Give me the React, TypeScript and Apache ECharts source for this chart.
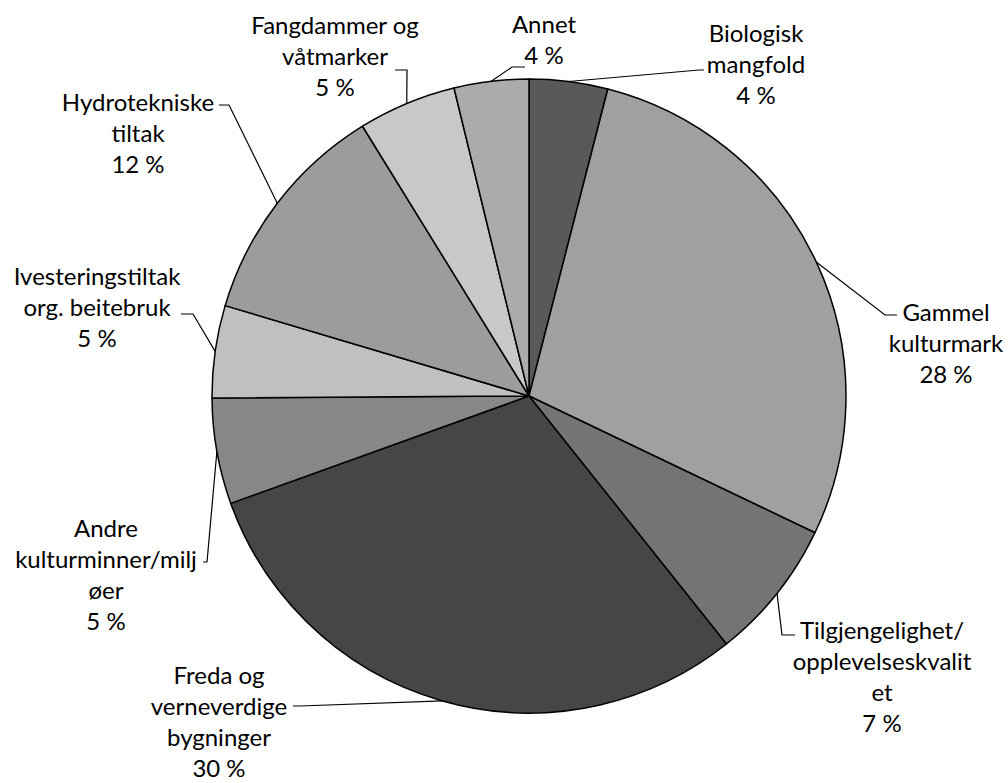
import React, { useEffect, useRef } from "react";
import * as echarts from "echarts";

const categories = [
  "Biologisk\nmangfold",
  "Gammel\nkulturmark",
  "Tilgjengelighet/\nopplevelseskvalit\net",
  "Freda og\nverneverdige\nbygninger",
  "Andre\nkulturminner/milj\nøer",
  "Ivesteringstiltak\norg. beitebruk",
  "Hydrotekniske\ntiltak",
  "Fangdammer og\nvåtmarker",
  "Annet",
];
const values = [4.0, 28.1, 7.2, 30.2, 5.4, 4.7, 11.6, 5.0, 3.8];
const colors = ["#595959", "#a0a0a0", "#747474", "#464646", "#878787", "#c0c0c0", "#9c9c9c", "#c8c8c8", "#ababab"];

// label centres and leader-line elbow/end points (layout, not data)
const labelCenters = [
  [756, 63], [946, 342], [882, 676], [219, 721], [106, 574], [97, 306], [138, 132], [335, 55], [544, 39],
];
const leaderElbows = [
  [[699, 70], [704, 70]],
  [[885, 315], [897, 315]],
  [[782, 635], [795, 635]],
  [[300, 706], [293, 706]],
  [[207, 562], [203, 562]],
  [[193, 314], [181, 314]],
  [[229, 105], [219, 105]],
  [[407, 70], [395, 70]],
  [[512, 67], [525, 67]],
];

export default function App() {
  const ref = useRef<HTMLDivElement>(null);
  useEffect(() => {
    if (!ref.current) return;
    const chart = echarts.init(ref.current, null, { renderer: "svg" });
    chart.setOption({
      animation: false,
      backgroundColor: "#ffffff",
      series: [
        {
          type: "pie",
          center: [529, 396],
          radius: 317,
          startAngle: 90,
          clockwise: true,
          avoidLabelOverlap: false,
          data: categories.map((c, i) => ({ name: c, value: values[i], itemStyle: { color: colors[i] } })),
          itemStyle: { borderColor: "#000000", borderWidth: 1.5 },
          label: {
            show: true,
            position: "outside",
            formatter: (p: any) => `${p.name}\n${Math.round(p.percent)} %`,
            fontFamily: "Lato",
            fontSize: 24,
            lineHeight: 31,
            color: "#000000",
            align: "center",
          },
          labelLine: { show: true, lineStyle: { color: "#000000", width: 1.2 } },
          labelLayout: (params: any) => {
            const i = params.dataIndex;
            const pts = params.labelLinePoints;
            const start = pts ? pts[0] : leaderElbows[i][0];
            return {
              x: labelCenters[i][0],
              y: labelCenters[i][1],
              align: "center",
              verticalAlign: "middle",
              labelLinePoints: [start, leaderElbows[i][0], leaderElbows[i][1]],
            };
          },
        },
      ],
    });
    return () => chart.dispose();
  }, []);
  return <div ref={ref} style={{ position: "absolute", left: 0, top: 0, width: 1008, height: 783 }} />;
}
